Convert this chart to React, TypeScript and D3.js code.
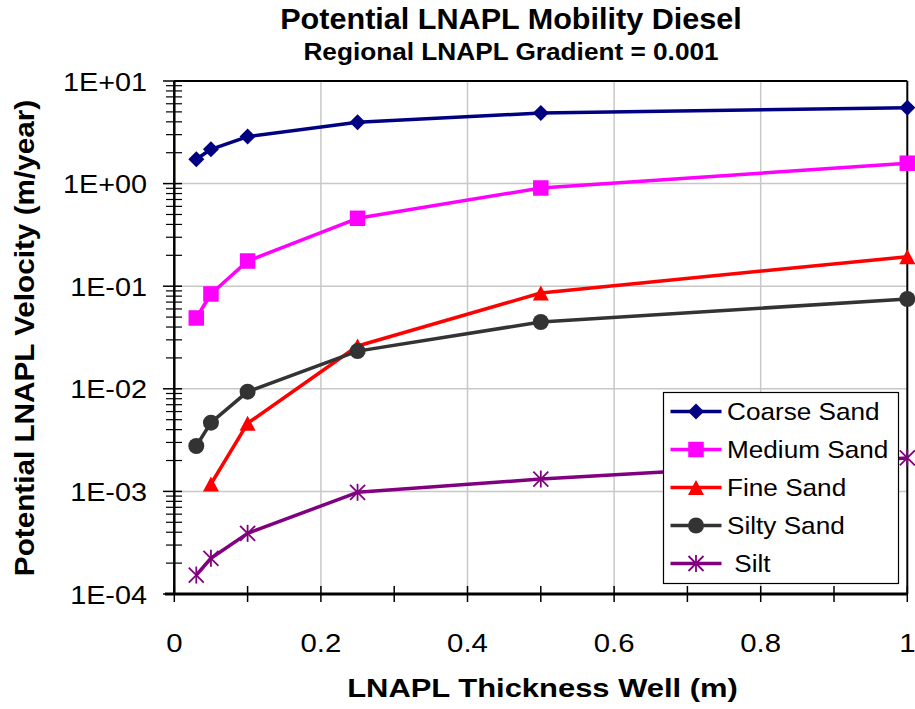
import React from "react";
import * as d3 from "d3";

// Well LNAPL thickness (m) for each soil type
const thicknessFull = [0.03, 0.05, 0.1, 0.25, 0.5, 1.0];
const thicknessFine = [0.05, 0.1, 0.25, 0.5, 1.0];

// Potential LNAPL velocity (m/year)
const coarseSand = [1.73, 2.16, 2.87, 3.96, 4.88, 5.5];
const mediumSand = [0.049, 0.084, 0.176, 0.459, 0.906, 1.58];
const fineSand = [0.00118, 0.00461, 0.0261, 0.0859, 0.194];
const siltySand = [0.00277, 0.00468, 0.00937, 0.0233, 0.0448, 0.075];
const silt = [0.000153, 0.000223, 0.00039, 0.00098, 0.00132, 0.00212];

const seriesNames = ["Coarse Sand", "Medium Sand", "Fine Sand", "Silty Sand", " Silt"];
const seriesColors = ["#000080", "#FF00FF", "#FF0000", "#333333", "#800080"];
const seriesMarkers = ["diamond", "square", "triangle", "circle", "star"];

const xTicks = [0, 0.2, 0.4, 0.6, 0.8, 1];
const xMinorTicks = [0, 0.1, 0.2, 0.3, 0.4, 0.5, 0.6, 0.7, 0.8, 0.9, 1];
const yTicks = [10, 1, 0.1, 0.01, 0.001, 0.0001];
const yTickLabels = ["1E+01", "1E+00", "1E-01", "1E-02", "1E-03", "1E-04"];

const FONT = "'Liberation Sans', Arial, sans-serif";

const W = 915;
const H = 709;
const left = 174.3;
const right = 907.3;
const top = 81;
const bottom = 594;

const x = d3.scaleLinear().domain([0, 1]).range([left, right]);
const y = d3.scaleLog().domain([1e-4, 10]).range([bottom, top]);

function Marker({ kind, cx, cy, color }: { kind: string; cx: number; cy: number; color: string }) {
  if (kind === "diamond") {
    const r = 8;
    return <path d={`M${cx},${cy - r}L${cx + r},${cy}L${cx},${cy + r}L${cx - r},${cy}Z`} fill={color} />;
  }
  if (kind === "square") {
    const s = 15.5;
    return <rect x={cx - s / 2} y={cy - s / 2} width={s} height={s} fill={color} />;
  }
  if (kind === "triangle") {
    const w = 16, h = 15;
    return <path d={`M${cx},${cy - h / 2}L${cx + w / 2},${cy + h / 2}L${cx - w / 2},${cy + h / 2}Z`} fill={color} />;
  }
  if (kind === "circle") {
    return <circle cx={cx} cy={cy} r={8} fill={color} />;
  }
  const r = 7.5;
  return (
    <g stroke={color} strokeWidth={1.8}>
      <line x1={cx - r} y1={cy - r} x2={cx + r} y2={cy + r} />
      <line x1={cx - r} y1={cy + r} x2={cx + r} y2={cy - r} />
      <line x1={cx} y1={cy - r - 1} x2={cx} y2={cy + r + 1} />
    </g>
  );
}

function SText(props: {
  x: number; y: number; sx?: number; rotate?: number; anchor?: string;
  size: number; weight?: string; children: React.ReactNode;
}) {
  const { sx = 1, rotate = 0, anchor = "start", size, weight = "normal" } = props;
  return (
    <text
      transform={`translate(${props.x},${props.y}) rotate(${rotate}) scale(${sx},1)`}
      textAnchor={anchor}
      fontSize={size}
      fontWeight={weight}
      fontFamily={FONT}
      fill="#000"
      style={{ whiteSpace: "pre" }}
    >
      {props.children}
    </text>
  );
}

export default function App() {
  const data = [
    { xs: thicknessFull, vs: coarseSand },
    { xs: thicknessFull, vs: mediumSand },
    { xs: thicknessFine, vs: fineSand },
    { xs: thicknessFull, vs: siltySand },
    { xs: thicknessFull, vs: silt },
  ];
  const line = d3
    .line<[number, number]>()
    .x((d) => x(d[0]))
    .y((d) => y(d[1]));

  // minor log ticks: 2..9 within each decade
  const minorY: number[] = [];
  for (let e = -4; e < 1; e++) {
    for (let m = 2; m <= 9; m++) minorY.push(m * Math.pow(10, e));
  }

  const legendX = 663.5;
  const legendY = 392.5;
  const legendW = 235;
  const legendH = 191;
  const rowH = 38;

  return (
    <svg width={W} height={H} style={{ position: "absolute", left: 0, top: 0, background: "#fff" }}>
      <rect x={0} y={0} width={W} height={H} fill="#fff" />

      {/* gridlines */}
      {yTicks.slice(1, -1).map((t) => (
        <line key={"gy" + t} x1={left} x2={right} y1={y(t)} y2={y(t)} stroke="#c8c8c8" strokeWidth={1.5} />
      ))}
      {xTicks.slice(1, -1).map((t) => (
        <line key={"gx" + t} x1={x(t)} x2={x(t)} y1={top} y2={bottom} stroke="#c8c8c8" strokeWidth={1.5} />
      ))}

      {/* plot frame */}
      <line x1={left} x2={right} y1={top} y2={top} stroke="#000" strokeWidth={2} />
      <line x1={right} x2={right} y1={top} y2={bottom} stroke="#000" strokeWidth={2} />

      {/* y axis */}
      <line x1={left} x2={left} y1={top} y2={bottom} stroke="#000" strokeWidth={2.5} />
      {yTicks.map((t) => (
        <line key={"yt" + t} x1={163} x2={182} y1={y(t)} y2={y(t)} stroke="#000" strokeWidth={1.5} />
      ))}
      {minorY.map((t) => (
        <line key={"ym" + t} x1={166} x2={182} y1={y(t)} y2={y(t)} stroke="#000" strokeWidth={1.2} />
      ))}
      {yTicks.map((t, i) => (
        <SText key={"yl" + t} x={147} y={y(t) + 9.5} anchor="end" size={25.5} sx={1.13}>
          {yTickLabels[i]}
        </SText>
      ))}

      {/* x axis */}
      <line x1={165} x2={right} y1={bottom} y2={bottom} stroke="#000" strokeWidth={3} />
      {xMinorTicks.map((t) => (
        <line key={"xt" + t} x1={x(t)} x2={x(t)} y1={586} y2={602} stroke="#000" strokeWidth={1.5} />
      ))}
      {xTicks.map((t) => (
        <SText key={"xl" + t} x={x(t)} y={652} anchor="middle" size={26} sx={1.13}>
          {d3.format("~g")(t)}
        </SText>
      ))}

      {/* series */}
      {data.map((s, i) => {
        const pts = s.xs.map((v, j) => [v, s.vs[j]] as [number, number]);
        return (
          <g key={"s" + i}>
            <path d={line(pts) || ""} fill="none" stroke={seriesColors[i]} strokeWidth={3.5} strokeLinejoin="round" />
            {pts.map((p, j) => (
              <Marker key={j} kind={seriesMarkers[i]} cx={x(p[0])} cy={y(p[1])} color={seriesColors[i]} />
            ))}
          </g>
        );
      })}

      {/* legend */}
      <rect x={legendX} y={legendY} width={legendW} height={legendH} fill="#fff" stroke="#000" strokeWidth={1.2} />
      {seriesNames.map((name, i) => {
        const cy = legendY + 19 + i * rowH;
        return (
          <g key={"lg" + i}>
            <line x1={670.5} x2={721.5} y1={cy} y2={cy} stroke={seriesColors[i]} strokeWidth={3.5} />
            <Marker kind={seriesMarkers[i]} cx={696} cy={cy} color={seriesColors[i]} />
            <SText x={727} y={cy + 8.5} size={24} sx={1.09}>
              {name}
            </SText>
          </g>
        );
      })}

      {/* titles */}
      <SText x={511} y={28.5} anchor="middle" size={29} weight="bold" sx={1.055}>
        Potential LNAPL Mobility Diesel
      </SText>
      <SText x={511} y={60} anchor="middle" size={24.5} weight="bold" sx={1.07}>
        Regional LNAPL Gradient = 0.001
      </SText>
      <SText x={542.5} y={697} anchor="middle" size={26} weight="bold" sx={1.19}>
        LNAPL Thickness Well (m)
      </SText>
      <SText x={34} y={338} anchor="middle" size={27} weight="bold" sx={1.1} rotate={-90}>
        Potential LNAPL Velocity (m/year)
      </SText>
    </svg>
  );
}
